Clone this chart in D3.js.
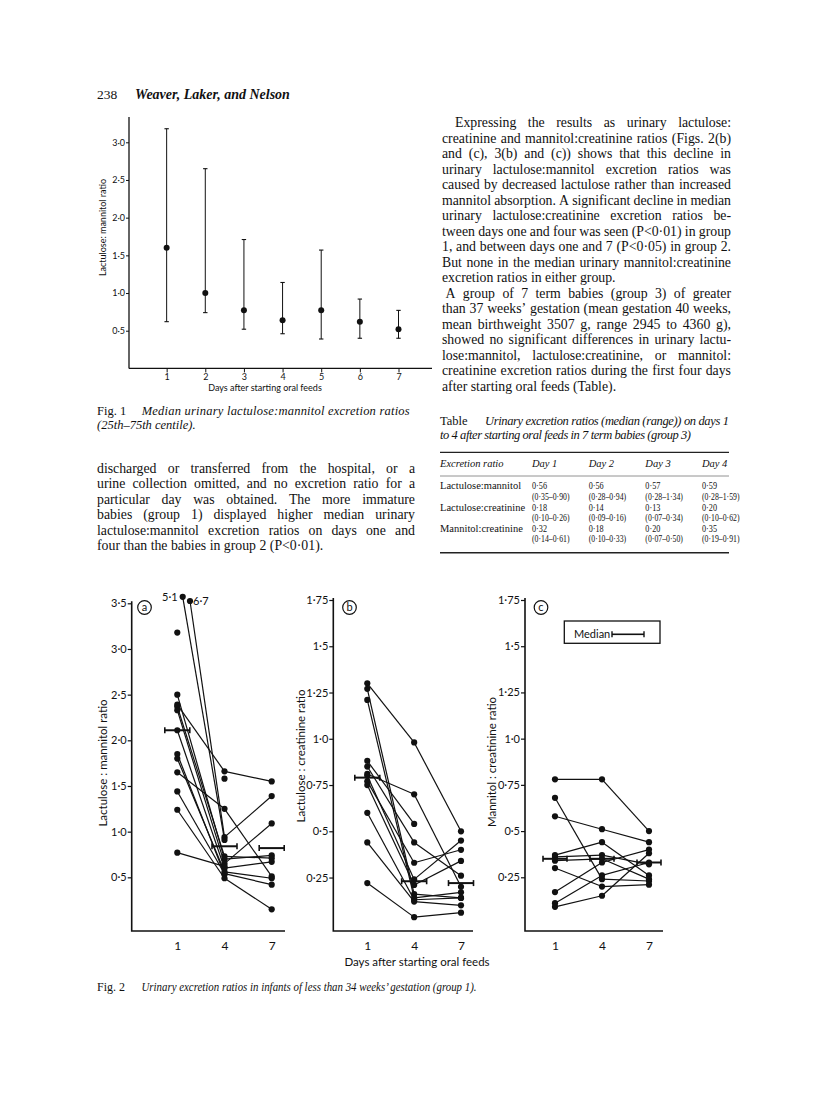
<!DOCTYPE html>
<html>
<head>
<meta charset="utf-8">
<script src="https://cdnjs.cloudflare.com/ajax/libs/d3/7.8.5/d3.min.js"></script>
<style>
body { margin: 0; background: #fff; }
svg { display: block; }
.serif { font-family: "Liberation Serif", "Times New Roman", serif; fill: #111; }
.sans { font-family: Lato, "Noto Sans", sans-serif; fill: #111; }
.it { font-style: italic; }
</style>
</head>
<body>
<svg id="page" width="816" height="1115"></svg>
<script>
// ---- Fig. 1: median (25th-75th centile) lactulose:mannitol by day
var fig1Days = [1, 2, 3, 4, 5, 6, 7];
var fig1Median = [1.60, 1.00, 0.77, 0.64, 0.77, 0.62, 0.52];
var fig1Low = [0.62, 0.74, 0.52, 0.46, 0.39, 0.40, 0.40];
var fig1High = [3.18, 2.65, 1.71, 1.14, 1.57, 0.92, 0.77];
var fig1YTicks = [0.5, 1.0, 1.5, 2.0, 2.5, 3.0];

// ---- Fig. 2: each infant on days 1, 4, 7 (null = no sample)
var fig2Days = [1, 4, 7];

var aDay1 = [5.1, 6.7, 3.18, 2.50, 2.39, 2.37, 2.33, 2.11, 1.85, 1.80, 1.65, 1.44, 1.24, 0.77, null];
var aDay4 = [0.91, 0.94, null, 0.70, 1.66, 0.73, 0.65, 0.60, 0.53, 0.56, 1.25, 0.54, 0.49, 0.62, 1.58];
var aDay7 = [null, 1.39, null, 0.74, 1.55, 0.71, 1.09, 0.67, null, 0.49, 0.51, 0.42, 0.15, null, null];
var aMedian = [2.11, 0.84, 0.82];
var aYTicks = [0.5, 1.0, 1.5, 2.0, 2.5, 3.0, 3.5];

var bDay1 = [1.30, 1.27, 1.21, 0.88, 0.85, 0.81, 0.80, 0.77, 0.75, 0.60, 0.44, 0.22];
var bDay4 = [0.98, 0.16, 0.14, 0.54, 0.44, 0.70, 0.24, 0.33, 0.21, 0.13, 0.12, 0.036];
var bDay7 = [0.50, 0.14, 0.17, null, 0.26, 0.20, 0.45, 0.40, 0.34, 0.14, 0.10, 0.06];
var bMedian = [0.79, 0.23, 0.22];

var cDay1 = [0.78, 0.68, 0.58, 0.37, 0.36, 0.34, 0.30, 0.17, 0.11, 0.09];
var cDay4 = [0.78, 0.24, 0.51, 0.44, 0.37, 0.35, 0.20, 0.33, 0.26, 0.15];
var cDay7 = [0.50, 0.23, 0.44, 0.26, 0.32, 0.24, 0.21, 0.40, 0.33, 0.38];
var cMedian = [0.35, 0.35, 0.33];
var bcYTicks = [0.25, 0.5, 0.75, 1.0, 1.25, 1.5, 1.75];

// ---- Table (group 3)
var tableCols = ['Day 1', 'Day 2', 'Day 3', 'Day 4'];
var tableRows = ['Lactulose:mannitol', 'Lactulose:creatinine', 'Mannitol:creatinine'];
var tableMedians = [
  ['0·56', '0·56', '0·57', '0·59'],
  ['0·18', '0·14', '0·13', '0·20'],
  ['0·32', '0·18', '0·20', '0·35']
];
var tableRanges = [
  ['(0·35–0·90)', '(0·28–0·94)', '(0·28–1·34)', '(0·28–1·59)'],
  ['(0·10–0·26)', '(0·09–0·16)', '(0·07–0·34)', '(0·10–0·62)'],
  ['(0·14–0·61)', '(0·10–0·33)', '(0·07–0·50)', '(0·19–0·91)']
];

// ---- body text
var leftPara = [
  'discharged or transferred from the hospital, or a',
  'urine collection omitted, and no excretion ratio for a',
  'particular day was obtained. The more immature',
  'babies (group 1) displayed higher median urinary',
  'lactulose:mannitol excretion ratios on days one and',
  'four than the babies in group 2 (P<0·01).'
];
var rightPara1 = [
  'Expressing the results as urinary lactulose:',
  'creatinine and mannitol:creatinine ratios (Figs. 2(b)',
  'and (c), 3(b) and (c)) shows that this decline in',
  'urinary lactulose:mannitol excretion ratios was',
  'caused by decreased lactulose rather than increased',
  'mannitol absorption. A significant decline in median',
  'urinary lactulose:creatinine excretion ratios be-',
  'tween days one and four was seen (P<0·01) in group',
  '1, and between days one and 7 (P<0·05) in group 2.',
  'But none in the median urinary mannitol:creatinine',
  'excretion ratios in either group.'
];
var rightPara2 = [
  'A group of 7 term babies (group 3) of greater',
  'than 37 weeks’ gestation (mean gestation 40 weeks,',
  'mean birthweight 3507 g, range 2945 to 4360 g),',
  'showed no significant differences in urinary lactu-',
  'lose:mannitol, lactulose:creatinine, or mannitol:',
  'creatinine excretion ratios during the first four days',
  'after starting oral feeds (Table).'
];

var svg = d3.select('#page');

function fmt(v) {
  var s = v.toFixed(2);
  if (s.charAt(s.length - 1) === '0') s = s.slice(0, -1);
  return s.replace('.', '·');
}

function textLine(g, str, x, y, size, cls) {
  return g.append('text').attr('class', cls).attr('x', x).attr('y', y)
    .style('font-size', size + 'px').text(str);
}

// narrow old-style figures: squeeze the measured width
function narrow(t, k) {
  var w = t.node().getComputedTextLength();
  return t.attr('textLength', w * k).attr('lengthAdjust', 'spacingAndGlyphs');
}

function justify(g, str, x0, x1, y, size, last) {
  if (last) { textLine(g, str, x0, y, size, 'serif'); return; }
  var words = str.split(' ');
  var nodes = words.map(function (w) {
    return g.append('text').attr('class', 'serif').attr('y', y)
      .style('font-size', size + 'px').text(w);
  });
  var widths = nodes.map(function (n) { return n.node().getComputedTextLength(); });
  var gap = (x1 - x0 - d3.sum(widths)) / (words.length - 1);
  if (gap < 2.2) {
    nodes.forEach(function (n) { n.remove(); });
    textLine(g, str, x0, y, size, 'serif')
      .attr('textLength', x1 - x0).attr('lengthAdjust', 'spacingAndGlyphs');
    return;
  }
  var x = x0;
  nodes.forEach(function (n, i) { n.attr('x', x); x += widths[i] + gap; });
}

var bodySize = 13.8;

// ---- page header
var head = svg.append('g');
textLine(head, '238', 97, 99, 13.5, 'serif');
textLine(head, 'Weaver, Laker, and Nelson', 135, 99, 14, 'serif it').style('font-weight', 'bold');

// ---- Fig. 1
(function () {
  var g = svg.append('g');
  var x = d3.scaleLinear().domain([0, 7]).range([128, 398.5]);
  var y = d3.scaleLinear().domain([0, 3.0]).range([368.4, 142.3]);
  var yAx = g.append('g').attr('transform', 'translate(129,0)')
    .call(d3.axisLeft(y).tickValues(fig1YTicks).tickSize(3).tickSizeOuter(0).tickPadding(1).tickFormat(fmt));
  yAx.select('.domain').remove();
  g.append('line').attr('x1', 129).attr('x2', 129).attr('y1', 117).attr('y2', 368.4)
    .attr('stroke', '#111').attr('stroke-width', 1.3);
  var xAx = g.append('g').attr('transform', 'translate(0,368.4)')
    .call(d3.axisBottom(x).tickValues(fig1Days).tickSize(4).tickSizeOuter(0).tickPadding(1).tickFormat(d3.format('d')));
  xAx.select('.domain').remove();
  g.append('line').attr('x1', 129).attr('x2', 432).attr('y1', 368.4).attr('y2', 368.4)
    .attr('stroke', '#111').attr('stroke-width', 1.3);
  g.selectAll('.tick text').attr('class', 'sans').style('font-size', '9px').attr('fill', '#111');
  g.selectAll('.tick line').attr('stroke', '#111');

  var bars = g.selectAll('.eb').data(fig1Days).enter().append('g');
  bars.append('line')
    .attr('x1', function (d) { return x(d); }).attr('x2', function (d) { return x(d); })
    .attr('y1', function (d, i) { return y(fig1Low[i]); })
    .attr('y2', function (d, i) { return y(fig1High[i]); })
    .attr('stroke', '#111').attr('stroke-width', 1);
  [fig1Low, fig1High].forEach(function (arr) {
    bars.append('line')
      .attr('x1', function (d) { return x(d) - 2.2; }).attr('x2', function (d) { return x(d) + 2.2; })
      .attr('y1', function (d, i) { return y(arr[i]); }).attr('y2', function (d, i) { return y(arr[i]); })
      .attr('stroke', '#111').attr('stroke-width', 1.1);
  });
  bars.append('circle')
    .attr('cx', function (d) { return x(d); })
    .attr('cy', function (d, i) { return y(fig1Median[i]); })
    .attr('r', 3).attr('fill', '#111');

  g.append('text').attr('class', 'sans').attr('text-anchor', 'middle')
    .attr('transform', 'translate(102.5,227.5) rotate(-90)').attr('dy', '0.35em')
    .style('font-size', '9px').text('Lactulose: mannitol ratio');
  g.append('text').attr('class', 'sans').attr('text-anchor', 'middle')
    .attr('x', 265).attr('y', 391).style('font-size', '9px').text('Days after starting oral feeds');

  textLine(g, 'Fig. 1', 97, 415, 12.5, 'serif');
  textLine(g, 'Median urinary lactulose:mannitol excretion ratios', 141.7, 415, 12.5, 'serif it')
    .attr('textLength', 268).attr('lengthAdjust', 'spacing');
  textLine(g, '(25th–75th centile).', 97, 429, 12.5, 'serif it');
})();

// ---- left column text
(function () {
  var g = svg.append('g');
  leftPara.forEach(function (l, i) {
    justify(g, l, 97, 415, 473 + i * 15.4, bodySize, i === leftPara.length - 1);
  });
})();

// ---- right column text
(function () {
  var g = svg.append('g');
  var n = 0;
  [[rightPara1, 13], [rightPara2, 3.5]].forEach(function (p) {
    p[0].forEach(function (l, i) {
      var x0 = i === 0 ? 442 + p[1] : 442;
      justify(g, l, x0, 731, 127 + n * 15.5, bodySize, i === p[0].length - 1);
      n++;
    });
  });
})();

// ---- Table
(function () {
  var g = svg.append('g');
  textLine(g, 'Table', 440, 425, 12.5, 'serif');
  textLine(g, 'Urinary excretion ratios (median (range)) on days 1', 485, 425, 12.5, 'serif it')
    .attr('textLength', 244).attr('lengthAdjust', 'spacing');
  textLine(g, 'to 4 after starting oral feeds in 7 term babies (group 3)', 440, 438.5, 12.5, 'serif it')
    .attr('textLength', 251).attr('lengthAdjust', 'spacing');
  g.append('line').attr('x1', 440).attr('x2', 729).attr('y1', 452.3).attr('y2', 452.3)
    .attr('stroke', '#222').attr('stroke-width', 1.2);
  g.append('line').attr('x1', 440).attr('x2', 729).attr('y1', 476).attr('y2', 476)
    .attr('stroke', '#777').attr('stroke-width', 0.8);
  g.append('line').attr('x1', 440).attr('x2', 729).attr('y1', 552.7).attr('y2', 552.7)
    .attr('stroke', '#222').attr('stroke-width', 1.4);
  var colX = d3.scalePoint().domain(tableCols).range([532, 702]);
  textLine(g, 'Excretion ratio', 440, 467, 10.5, 'serif it');
  tableCols.forEach(function (c) { textLine(g, c, colX(c), 467, 10.5, 'serif it'); });
  var rowY = d3.scalePoint().domain(tableRows).range([489.3, 531.7]);
  tableRows.forEach(function (r, i) {
    textLine(g, r, 440, rowY(r), 10.5, 'serif');
    tableCols.forEach(function (c, j) {
      narrow(textLine(g, tableMedians[i][j], colX(c), rowY(r), 10.5, 'serif'), 0.78);
      narrow(textLine(g, tableRanges[i][j], colX(c), rowY(r) + 10.5, 10.5, 'serif'), 0.74);
    });
  });
})();

// ---- Fig. 2 panels
var baseY = 931;
function panel(cfg) {
  var g = svg.append('g');
  var x = d3.scaleLinear().domain([1, 7]).range([cfg.d1, cfg.d7]);
  var y = d3.scaleLinear().domain([0, cfg.yMax]).range([cfg.y0, cfg.yTop]);

  var yAx = g.append('g').attr('transform', 'translate(' + cfg.x0 + ',0)')
    .call(d3.axisLeft(y).tickValues(cfg.ticks).tickSize(4).tickSizeOuter(0).tickPadding(1).tickFormat(fmt));
  yAx.select('.domain').remove();
  var xAx = g.append('g').attr('transform', 'translate(0,' + baseY + ')')
    .call(d3.axisBottom(x).tickValues(fig2Days).tickSize(0).tickPadding(10).tickFormat(d3.format('d')));
  xAx.select('.domain').remove();
  g.selectAll('.tick text').attr('class', 'sans').style('font-size', '11px').attr('fill', '#111');
  xAx.selectAll('.tick text').style('font-size', '12px');
  g.selectAll('.tick line').attr('stroke', '#111').attr('stroke-width', 1.2);
  g.append('path')
    .attr('d', 'M' + cfg.x0 + ',' + (cfg.yTop - 2) + 'V' + baseY + 'H' + cfg.x1)
    .attr('fill', 'none').attr('stroke', '#111').attr('stroke-width', 1.6);

  function pos(v, k) {
    if (v > cfg.yMax) {
      var n = cfg.offscale[v];
      return [x(fig2Days[k]) + n[0], y(cfg.yMax) + n[1]];
    }
    return [x(fig2Days[k]), y(v)];
  }
  var series = [cfg.day1, cfg.day4, cfg.day7];
  var segs = [];
  var pts = [];
  cfg.day1.forEach(function (d, i) {
    for (var k = 0; k < 3; k++) {
      var v = series[k][i];
      if (v === null) continue;
      pts.push(pos(v, k));
      if (k < 2 && series[k + 1][i] !== null) segs.push([pos(v, k), pos(series[k + 1][i], k + 1)]);
    }
  });
  g.selectAll('.seg').data(segs).enter().append('line')
    .attr('x1', function (d) { return d[0][0]; }).attr('y1', function (d) { return d[0][1]; })
    .attr('x2', function (d) { return d[1][0]; }).attr('y2', function (d) { return d[1][1]; })
    .attr('stroke', '#111').attr('stroke-width', 1.2);
  g.selectAll('.pt').data(pts).enter().append('circle')
    .attr('cx', function (d) { return d[0]; }).attr('cy', function (d) { return d[1]; })
    .attr('r', 3.1).attr('fill', '#111');

  // medians
  var mg = g.selectAll('.med').data(fig2Days).enter().append('g');
  mg.append('line')
    .attr('x1', function (d) { return x(d) - cfg.medHalf; }).attr('x2', function (d) { return x(d) + cfg.medHalf; })
    .attr('y1', function (d, i) { return y(cfg.median[i]); }).attr('y2', function (d, i) { return y(cfg.median[i]); })
    .attr('stroke', '#111').attr('stroke-width', 2);
  [-1, 1].forEach(function (s) {
    mg.append('line')
      .attr('x1', function (d) { return x(d) + s * cfg.medHalf; }).attr('x2', function (d) { return x(d) + s * cfg.medHalf; })
      .attr('y1', function (d, i) { return y(cfg.median[i]) - 3; }).attr('y2', function (d, i) { return y(cfg.median[i]) + 3; })
      .attr('stroke', '#111').attr('stroke-width', 1.6);
  });

  // off-scale labels
  Object.keys(cfg.offscale).forEach(function (v) {
    var p = pos(+v, 0), o = cfg.offscale[v];
    g.append('text').attr('class', 'sans').style('font-size', '11px')
      .attr('x', p[0] + o[2]).attr('y', p[1] + 4).attr('text-anchor', o[3])
      .text(fmt(+v));
  });

  g.append('circle').attr('cx', cfg.letterX).attr('cy', 607.5).attr('r', 6.8)
    .attr('fill', 'none').attr('stroke', '#111').attr('stroke-width', 1.2);
  g.append('text').attr('class', 'sans').attr('x', cfg.letterX).attr('y', 607.5)
    .attr('dy', '0.33em').attr('text-anchor', 'middle').style('font-size', '11px').text(cfg.letter);

  g.append('text').attr('class', 'sans').attr('text-anchor', 'middle')
    .attr('transform', 'translate(' + cfg.labelX + ',' + cfg.labelY + ') rotate(-90)').attr('dy', '0.35em')
    .style('font-size', '11.5px').text(cfg.label);
  return g;
}

panel({ x0: 131.7, x1: 285, d1: 177.3, d7: 271.7, y0: 923, yTop: 603.3, yMax: 3.5, ticks: aYTicks,
  day1: aDay1, day4: aDay4, day7: aDay7, median: aMedian, medHalf: 12.5,
  offscale: { 5.1: [5.4, -6.5, -5, 'end'], 6.7: [12.7, -2.3, 3, 'start'] },
  letter: 'a', letterX: 144.5, label: 'Lactulose : mannitol ratio', labelX: 103, labelY: 763 });
panel({ x0: 333.3, x1: 473, d1: 367.3, d7: 461, y0: 923.8, yTop: 600, yMax: 1.75, ticks: bcYTicks,
  day1: bDay1, day4: bDay4, day7: bDay7, median: bMedian, medHalf: 12.5, offscale: {},
  letter: 'b', letterX: 349.5, label: 'Lactulose : creatinine ratio', labelX: 300.5, labelY: 756 });
var pc = panel({ x0: 525, x1: 663, d1: 555, d7: 649, y0: 923.5, yTop: 600, yMax: 1.75, ticks: bcYTicks,
  day1: cDay1, day4: cDay4, day7: cDay7, median: cMedian, medHalf: 12, offscale: {},
  letter: 'c', letterX: 541, label: 'Mannitol : creatinine ratio', labelX: 492, labelY: 762 });

// legend
pc.append('rect').attr('x', 564.3).attr('y', 621).attr('width', 95.7).attr('height', 22.3)
  .attr('fill', 'none').attr('stroke', '#111').attr('stroke-width', 1.3);
pc.append('text').attr('class', 'sans').attr('x', 574).attr('y', 638).style('font-size', '11px').text('Median');
pc.append('line').attr('x1', 612).attr('x2', 644).attr('y1', 634.3).attr('y2', 634.3)
  .attr('stroke', '#111').attr('stroke-width', 1.6);
[612, 644].forEach(function (lx) {
  pc.append('line').attr('x1', lx).attr('x2', lx).attr('y1', 631.3).attr('y2', 637.3)
    .attr('stroke', '#111').attr('stroke-width', 1.4);
});

svg.append('text').attr('class', 'sans').attr('text-anchor', 'middle')
  .attr('x', 417).attr('y', 966).style('font-size', '11.5px').text('Days after starting oral feeds');
textLine(svg, 'Fig. 2', 97, 991, 12, 'serif');
textLine(svg, 'Urinary excretion ratios in infants of less than 34 weeks’ gestation (group 1).', 141.5, 991, 11.5, 'serif it')
  .attr('textLength', 335).attr('lengthAdjust', 'spacingAndGlyphs');
</script>
</body>
</html>
